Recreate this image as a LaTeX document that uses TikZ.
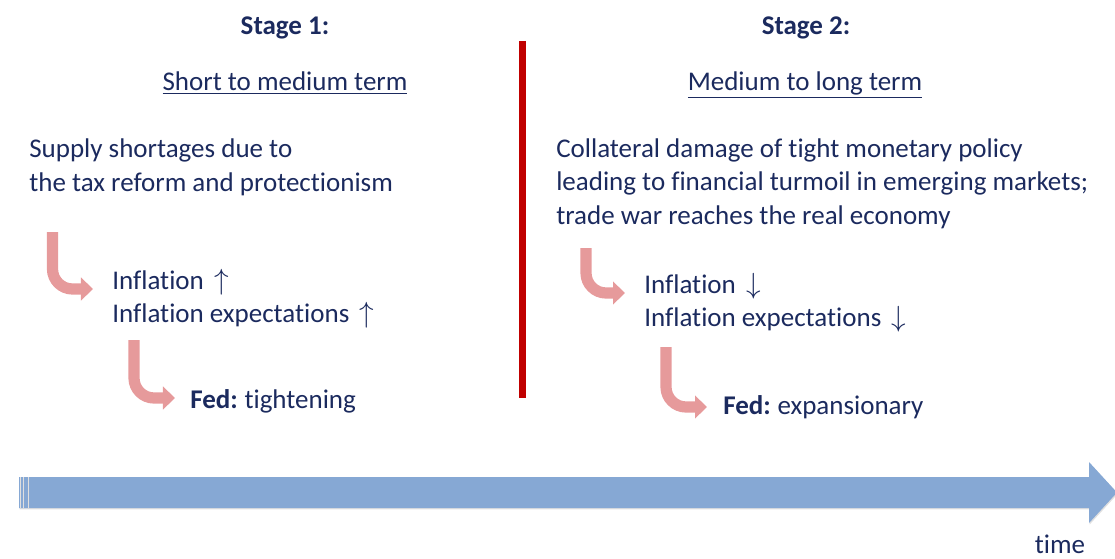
\documentclass[tikz,border=0pt]{standalone}
\usepackage{fontspec}
\setmainfont{Carlito}[Ligatures=NoCommon]
\usetikzlibrary{arrows.meta,shadows}
\definecolor{navy}{HTML}{1B2A5E}
\definecolor{stagered}{HTML}{C00000}
\definecolor{rose}{HTML}{E69A9B}
\definecolor{timeblue}{HTML}{86A8D4}
\tikzset{txt/.style={text=navy, font=\fontsize{19.2}{23.6}\selectfont, inner sep=0pt, align=left},
  stagehead/.style={txt, font=\fontsize{19.2}{23.6}\selectfont\bfseries},
  elbow/.style={rose, line width=0.28cm, rounded corners=0.5cm, -{Triangle[length=0.3cm,width=0.56cm]}}}

\begin{document}
\begin{tikzpicture}[x=0.025cm,y=-0.025cm]
  \useasboundingbox (0,0) rectangle (1115,558);
  % headings
  \node[stagehead, anchor=base] (stage1) at (285,35) {Stage 1:};
  \node[txt, anchor=base] (term1) at (285,91) {\underline{Short to medium term}};
  \node[stagehead, anchor=base] (stage2) at (806,35) {Stage 2:};
  \node[txt, anchor=base] (term2) at (805,91) {\underline{Medium to long term}};
  % divider
  \draw[stagered, line width=0.175cm] (522,41) -- (522,398);
  % stage 1 (base = last line)
  \node[txt, anchor=base west] (cause1) at (29,191) {Supply shortages due to\\the tax reform and protectionism};
  \node[txt, anchor=base west] (infl1) at (112,322.5) {Inflation \,$\uparrow$\\Inflation expectations \,$\uparrow$};
  \node[txt, anchor=base west] (fed1) at (190,408) {\textbf{Fed:}\kern-1pt{} tightening};
  \coordinate (a1s) at (52.5,232); \coordinate (a1e) at (93,289);
  \coordinate (a2s) at (134,340);  \coordinate (a2e) at (175,398);
  \draw[elbow] (a1s) |- (a1e);
  \draw[elbow] (a2s) |- (a2e);
  % stage 2
  \node[txt, anchor=base west] (cause2) at (556,224) {Collateral damage of tight monetary policy\\leading to financial turmoil in emerging markets;\\trade war reaches the real economy};
  \node[txt, anchor=base west] (infl2) at (644,326.5) {Inflation \,$\downarrow$\\Inflation expectations \,$\downarrow$};
  \node[txt, anchor=base west] (fed2) at (723,414) {\textbf{Fed:}\kern-1pt{} expansionary};
  \coordinate (a3s) at (586,248); \coordinate (a3e) at (625,293);
  \coordinate (a4s) at (666,347); \coordinate (a4e) at (707,407);
  \draw[elbow] (a3s) |- (a3e);
  \draw[elbow] (a4s) |- (a4e);
  % time axis
  \fill[timeblue, drop shadow={opacity=0.25, shadow xshift=0.5pt, shadow yshift=-1pt}]
    (19,477) -- (1089,477) -- (1089,462) -- (1117,492.5) -- (1089,523) -- (1089,508) -- (19,508) -- cycle;
  \foreach \x in {20.5,23.5,28.5} \draw[white!75!gray, line width=0.03cm] (\x,477) -- (\x,508);
  \node[txt, anchor=base] (time) at (1060,553) {time};
\end{tikzpicture}
\end{document}
